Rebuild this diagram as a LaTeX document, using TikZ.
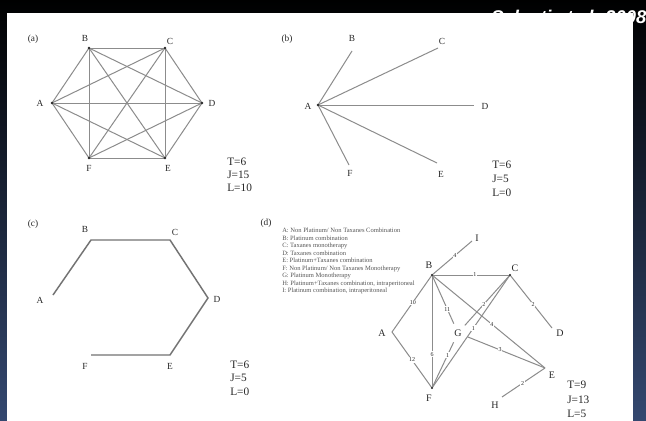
\documentclass[tikz,border=0pt]{standalone}
\usepackage{fontspec}
\setmainfont{Liberation Serif}
\newfontfamily\titlefont{Liberation Sans}
\definecolor{bgblue}{RGB}{52,72,112}
\definecolor{bgmid}{RGB}{14,20,38}
\definecolor{linec}{RGB}{140,140,140}
\definecolor{clinec}{RGB}{115,115,115}
\definecolor{labc}{RGB}{40,40,40}
\definecolor{legc}{RGB}{85,85,85}
\begin{document}
\begin{tikzpicture}[x=0.75pt,y=-0.75pt,
  lbl/.style={font=\fontsize{7}{8}\selectfont, text=labc, inner sep=0},
  statx/.style={font=\fontsize{8.5}{9}\selectfont, text=labc, inner sep=0, anchor=west},
  plabel/.style={font=\fontsize{7}{8}\selectfont, text=labc, inner sep=0},
  edgeline/.style={draw=linec, line width=0.75pt},
  cline/.style={draw=clinec, line width=1.1pt},
  vdot/.style={circle, fill=labc, inner sep=0, minimum size=2.2pt},
  wt/.style={fill=white, inner sep=0.5pt, font=\fontsize{4.5}{4.5}\selectfont, text=labc},
  legend/.style={font=\fontsize{4.9}{5.6}\selectfont, text=legc, inner sep=0, anchor=north west, align=left}]
\useasboundingbox (0,0) rectangle (646,421);
\shade[top color=black, middle color=bgmid, bottom color=bgblue] (0,0) rectangle (646,421);
\node[anchor=base west, font=\titlefont\bfseries\itshape\fontsize{13.8}{16}\selectfont, text=white, inner sep=0] (title) at (491,23) {Salanti et al. 2008};
\fill[white] (7,13) rectangle (633,421);

% ---------- (a)
\node[plabel] (pa) at (33,39) {(a)};
\coordinate (aA) at (52,103);
\coordinate (aB) at (89,48);
\coordinate (aC) at (165,48);
\coordinate (aD) at (202,103);
\coordinate (aE) at (165,158);
\coordinate (aF) at (89,158);
\foreach \u/\v in {A/B,A/C,A/D,A/E,A/F,B/C,B/D,B/E,B/F,C/D,C/E,C/F,D/E,D/F,E/F}
  \draw[edgeline] (a\u) -- (a\v);
\foreach \n in {A,B,C,D,E,F} \node[vdot] (adot\n) at (a\n) {};
\node[lbl] (aAl) at (40,103) {A};
\node[lbl] (aBl) at (85,38) {B};
\node[lbl] (aCl) at (170,41) {C};
\node[lbl] (aDl) at (212,103) {D};
\node[lbl] (aEl) at (168,168) {E};
\node[lbl] (aFl) at (89,168) {F};
\node[statx] (aT) at (227,162) {T=6};
\node[statx] (aJ) at (227,175) {J=15};
\node[statx] (aL) at (227,188) {L=10};

% ---------- (b)
\node[plabel] (pb) at (287,39) {(b)};
\coordinate (bA) at (318,105);
\coordinate (bB) at (352,51);
\coordinate (bC) at (438,48);
\coordinate (bD) at (474,105);
\coordinate (bE) at (437,163);
\coordinate (bF) at (349,165);
\foreach \v in {B,C,D,E,F} \draw[edgeline] (bA) -- (b\v);
\node[vdot] (bdotA) at (bA) {};
\node[lbl] (bAl) at (308,106) {A};
\node[lbl] (bBl) at (352,38) {B};
\node[lbl] (bCl) at (442,41) {C};
\node[lbl] (bDl) at (485,106) {D};
\node[lbl] (bEl) at (441,174) {E};
\node[lbl] (bFl) at (350,173) {F};
\node[statx] (bT) at (492,165) {T=6};
\node[statx] (bJ) at (492,179) {J=5};
\node[statx] (bL) at (492,193) {L=0};

% ---------- (c)
\node[plabel] (pc) at (33,224) {(c)};
\coordinate (cA) at (53,295);
\coordinate (cB) at (91,240);
\coordinate (cC) at (170,240);
\coordinate (cD) at (208,298);
\coordinate (cE) at (170,355);
\coordinate (cF) at (91,355);
\draw[cline] (cA) -- (cB) -- (cC) -- (cD) -- (cE) -- (cF);
\node[lbl] (cAl) at (40,300) {A};
\node[lbl] (cBl) at (85,229) {B};
\node[lbl] (cCl) at (175,232) {C};
\node[lbl] (cDl) at (217,299) {D};
\node[lbl] (cEl) at (170,366) {E};
\node[lbl] (cFl) at (85,366) {F};
\node[statx] (cT) at (230,365) {T=6};
\node[statx] (cJ) at (230,378) {J=5};
\node[statx] (cL) at (230,392) {L=0};

% ---------- (d)
\node[plabel] (pd) at (266,223) {(d)};
\node[legend] (leg) at (282,228) {A: Non Platinum/ Non Taxanes Combination\\
B: Platinum combination\\
C: Taxanes monotherapy\\
D: Taxanes combination\\
E: Platinum+Taxanes combination\\
F: Non Platinum/ Non Taxanes Monotherapy\\
G: Platinum Monotherapy\\
H: Platinum+Taxanes combination, intraperitoneal\\
I: Platinum combination, intraperitoneal};

\coordinate (dA) at (392,332);
\coordinate (dB) at (432,275);
\coordinate (dC) at (510,275);
\coordinate (dD) at (552,328);
\coordinate (dE) at (545,368);
\coordinate (dF) at (432,388);
\coordinate (dH) at (502,397);
\coordinate (dI) at (472,241);
\node[lbl, font=\fontsize{7.5}{8}\selectfont, circle, minimum size=15pt] (dG) at (458,333) {G};

\draw[edgeline] (dB) -- node[wt, pos=0.57] (w1) {4} (dI);
\draw[edgeline] (dB) -- node[wt, pos=0.55] (w2) {1} (dC);
\draw[edgeline] (dC) -- node[wt, pos=0.55] (w3) {2} (dD);
\draw[edgeline] (dA) -- node[wt, pos=0.52] (w4) {10} (dB);
\draw[edgeline] (dA) -- node[wt, pos=0.5] (w5) {12} (dF);
\draw[edgeline] (dB) -- node[wt, pos=0.7] (w6) {6} (dF);
\draw[edgeline] (dB) -- node[wt, pos=0.7] (w7) {11} (dG);
\draw[edgeline] (dG) -- node[wt, pos=0.42] (w8) {2} (dC);
\draw[edgeline] (dF) -- node[wt, pos=0.53] (w9) {1} (dC);
\draw[edgeline] (dF) -- node[wt, pos=0.72] (w10) {1} (dG);
\draw[edgeline] (dB) -- node[wt, pos=0.53] (w11) {4} (dE);
\draw[edgeline] (dG) -- node[wt, pos=0.42] (w12) {3} (dE);
\draw[edgeline] (dE) -- node[wt, pos=0.52] (w13) {2} (dH);
\foreach \n in {B,C,F} \node[vdot, minimum size=1.8pt] (ddot\n) at (d\n) {};

\node[lbl, font=\fontsize{7.5}{8}\selectfont] (dAl) at (382,333) {A};
\node[lbl, font=\fontsize{7.5}{8}\selectfont] (dBl) at (429,265) {B};
\node[lbl, font=\fontsize{7.5}{8}\selectfont] (dCl) at (515,268) {C};
\node[lbl, font=\fontsize{7.5}{8}\selectfont] (dDl) at (560,333) {D};
\node[lbl, font=\fontsize{7.5}{8}\selectfont] (dEl) at (552,375) {E};
\node[lbl, font=\fontsize{7.5}{8}\selectfont] (dFl) at (429,398) {F};
\node[lbl, font=\fontsize{7.5}{8}\selectfont] (dHl) at (495,405) {H};
\node[lbl, font=\fontsize{7.5}{8}\selectfont] (dIl) at (477,238) {I};
\node[statx] (dT) at (567,385) {T=9};
\node[statx] (dJ) at (567,400) {J=13};
\node[statx] (dL) at (567,414) {L=5};
\end{tikzpicture}
\end{document}
